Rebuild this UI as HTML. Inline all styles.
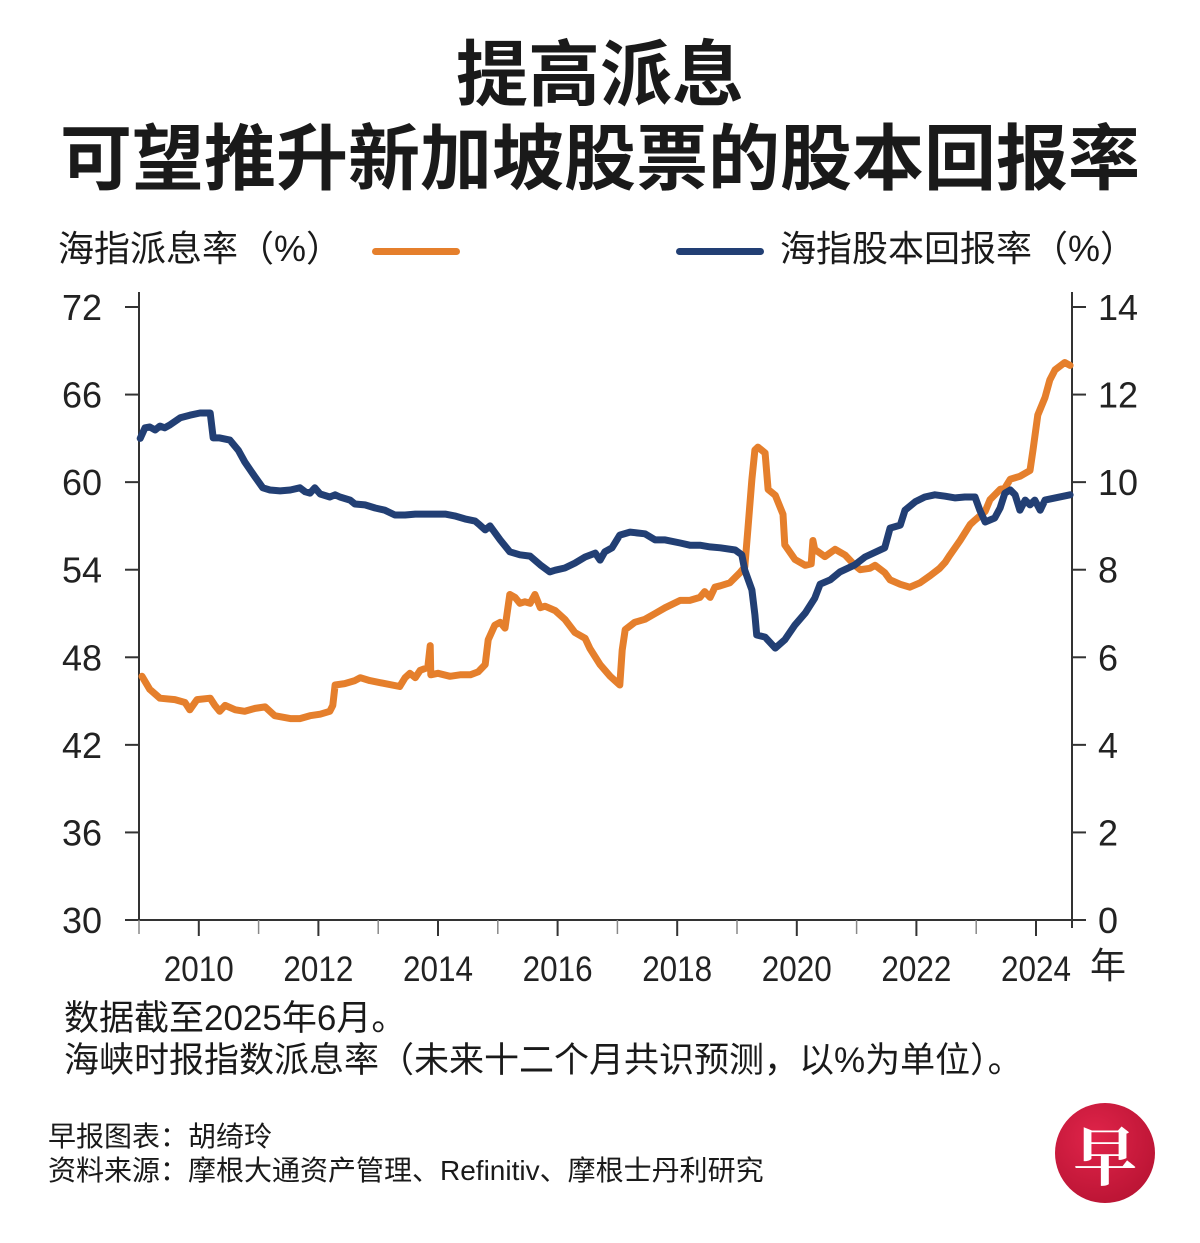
<!DOCTYPE html>
<html><head><meta charset="utf-8">
<style>
html,body{margin:0;padding:0;background:#fff;}
body{width:1200px;height:1243px;position:relative;overflow:hidden;font-family:"Liberation Sans","Noto Sans CJK SC",sans-serif;color:#1a1a1a;}
.t{position:absolute;white-space:nowrap;}
</style></head>
<body>
<div class="t" style="left:0;width:1200px;text-align:center;top:36px;font-size:72px;font-weight:bold;line-height:80px;">提高派息</div>
<div class="t" style="left:0;width:1200px;text-align:center;top:120px;font-size:72px;font-weight:bold;line-height:80px;">可望推升新加坡股票的股本回报率</div>
<div class="t" style="left:58px;top:226px;font-size:36px;line-height:46px;">海指派息率（%）</div>
<div style="position:absolute;left:372px;top:248px;width:88px;height:7px;border-radius:4px;background:#e57f2c;"></div>
<div style="position:absolute;left:676px;top:248px;width:88px;height:7px;border-radius:4px;background:#223f74;"></div>
<div class="t" style="left:780px;top:226px;font-size:36px;line-height:46px;">海指股本回报率（%）</div>

<svg id="chart" width="1200" height="1000" style="position:absolute;left:0;top:0;" xmlns="http://www.w3.org/2000/svg"></svg>

<div class="t" style="left:64px;top:998px;font-size:35px;line-height:42px;">数据截至2025年6月。</div>
<div class="t" style="left:64px;top:1040px;font-size:35px;line-height:42px;">海峡时报指数派息率（未来十二个月共识预测，以%为单位）。</div>
<div class="t" style="left:48px;top:1120px;font-size:28px;line-height:34px;">早报图表：胡绮玲</div>
<div class="t" style="left:48px;top:1154px;font-size:28px;line-height:34px;">资料来源：摩根大通资产管理、Refinitiv、摩根士丹利研究</div>
<div style="position:absolute;left:1055px;top:1103px;width:100px;height:100px;border-radius:50%;background:radial-gradient(circle at 40% 35%,#e0244a,#b0102e);color:#fff;font-size:64px;font-weight:bold;line-height:100px;text-align:center;font-family:'Noto Serif CJK SC',serif;">早</div>

<script>
const years = [2009.05,2009.18,2009.35,2009.60,2009.77,2009.85,2009.97,2010.19,2010.27,2010.35,2010.44,2010.61,2010.77,2010.94,2011.11,2011.27,2011.53,2011.69,2011.86,2012.03,2012.19,2012.24,2012.28,2012.44,2012.61,2012.70,2012.86,2013.11,2013.36,2013.45,2013.53,2013.62,2013.70,2013.83,2013.87,2013.88,2014.00,2014.20,2014.37,2014.54,2014.67,2014.79,2014.84,2014.95,2015.04,2015.12,2015.20,2015.29,2015.37,2015.45,2015.54,2015.62,2015.71,2015.79,2015.96,2016.12,2016.29,2016.46,2016.54,2016.71,2016.88,2017.04,2017.08,2017.13,2017.29,2017.46,2017.63,2017.80,2018.05,2018.21,2018.38,2018.46,2018.55,2018.63,2018.72,2018.88,2019.05,2019.13,2019.18,2019.25,2019.30,2019.35,2019.47,2019.52,2019.64,2019.77,2019.80,2019.97,2020.14,2020.24,2020.27,2020.30,2020.47,2020.64,2020.81,2020.97,2021.06,2021.22,2021.31,2021.47,2021.56,2021.73,2021.89,2022.06,2022.23,2022.39,2022.48,2022.56,2022.73,2022.90,2022.98,2023.15,2023.23,2023.40,2023.48,2023.57,2023.73,2023.90,2023.95,2024.03,2024.15,2024.23,2024.32,2024.48,2024.57];
const dividendYield = [46.7,45.8,45.2,45.1,44.9,44.4,45.1,45.2,44.7,44.3,44.7,44.4,44.3,44.5,44.6,44.0,43.8,43.8,44.0,44.1,44.3,44.7,46.1,46.2,46.4,46.6,46.4,46.2,46.0,46.6,46.9,46.6,47.1,47.3,48.8,46.8,46.9,46.7,46.8,46.8,47.0,47.5,49.2,50.2,50.4,50.0,52.3,52.1,51.7,51.8,51.7,52.3,51.4,51.5,51.2,50.6,49.7,49.3,48.6,47.5,46.7,46.1,48.5,49.9,50.4,50.6,51.0,51.4,51.9,51.9,52.1,52.5,52.1,52.8,52.9,53.1,53.8,54.2,56.7,60.2,62.2,62.4,62.0,59.5,59.1,57.8,55.7,54.7,54.3,54.4,56.0,55.4,54.9,55.4,55.0,54.3,54.0,54.1,54.3,53.8,53.3,53.0,52.8,53.1,53.6,54.1,54.5,55.0,56.0,57.1,57.4,58.0,58.8,59.5,59.6,60.2,60.4,60.8,62.2,64.6,65.8,67.0,67.7,68.2,68.0];
const roeYears = [2009.02,2009.10,2009.18,2009.27,2009.35,2009.43,2009.52,2009.69,2009.85,2010.02,2010.19,2010.24,2010.35,2010.52,2010.66,2010.77,2010.94,2011.07,2011.19,2011.36,2011.53,2011.69,2011.78,2011.86,2011.94,2012.03,2012.19,2012.28,2012.36,2012.53,2012.61,2012.78,2012.95,2013.11,2013.28,2013.45,2013.62,2013.87,2014.12,2014.28,2014.45,2014.62,2014.70,2014.79,2014.87,2015.04,2015.20,2015.37,2015.54,2015.71,2015.87,2015.96,2016.12,2016.29,2016.46,2016.63,2016.71,2016.79,2016.91,2017.04,2017.21,2017.46,2017.63,2017.80,2018.05,2018.21,2018.38,2018.55,2018.72,2018.97,2019.08,2019.13,2019.25,2019.30,2019.33,2019.47,2019.64,2019.80,2019.97,2020.14,2020.30,2020.39,2020.56,2020.72,2020.97,2021.14,2021.47,2021.56,2021.73,2021.81,2021.98,2022.14,2022.31,2022.48,2022.65,2022.81,2022.98,2023.06,2023.15,2023.31,2023.40,2023.48,2023.57,2023.65,2023.73,2023.82,2023.90,2023.98,2024.07,2024.15,2024.32,2024.57];
const roe = [11.0,11.24,11.26,11.19,11.28,11.24,11.31,11.47,11.53,11.58,11.58,11.01,11.01,10.96,10.73,10.46,10.12,9.87,9.82,9.80,9.82,9.87,9.78,9.75,9.87,9.73,9.66,9.71,9.66,9.59,9.50,9.48,9.41,9.36,9.25,9.25,9.27,9.27,9.27,9.23,9.16,9.11,9.02,8.91,9.00,8.68,8.41,8.34,8.31,8.11,7.95,7.99,8.04,8.15,8.29,8.38,8.22,8.41,8.50,8.79,8.86,8.82,8.68,8.68,8.61,8.56,8.56,8.52,8.50,8.45,8.34,7.99,7.54,6.97,6.51,6.46,6.21,6.40,6.74,7.01,7.35,7.67,7.77,7.95,8.11,8.29,8.50,8.95,9.02,9.36,9.55,9.66,9.71,9.68,9.64,9.66,9.66,9.36,9.09,9.18,9.41,9.75,9.82,9.71,9.36,9.59,9.48,9.59,9.36,9.59,9.64,9.71];
const leftTicks = [30,36,42,48,54,60,66,72];
const rightTicks = [0,2,4,6,8,10,12,14];
const yearLabels = [2010,2012,2014,2016,2018,2020,2022,2024];
const yearTicks = [2009,2010,2011,2012,2013,2014,2015,2016,2017,2018,2019,2020,2021,2022,2023,2024];

const svg = document.getElementById('chart');
const NS = 'http://www.w3.org/2000/svg';
const X0 = 139, XR = 1072, YT = 307, YB = 920;
const xS = y => X0 + (y - 2009) * 59.8;
const yL = v => YB - (v - 30) / 42 * (YB - YT);
const yR = v => YB - v / 14 * (YB - YT);
function mk(tag, attrs){const e=document.createElementNS(NS,tag);for(const k in attrs)e.setAttribute(k,attrs[k]);svg.appendChild(e);return e;}

let e = mk('line',{x1:X0,y1:YT-15,x2:X0,y2:YB,stroke:'#333','stroke-width':2});


e = mk('line',{x1:XR,y1:YT-15,x2:XR,y2:YB+8,stroke:'#333','stroke-width':2});


e = mk('line',{x1:X0,y1:YB,x2:XR,y2:YB,stroke:'#333','stroke-width':2});



leftTicks.forEach(v=>{
  const y=yL(v);
  let t=mk('line',{x1:X0-14,y1:y,x2:X0,y2:y,stroke:'#333','stroke-width':2});
  
  
  let l=mk('text',{x:102,y:y+13,'text-anchor':'end','font-size':36,fill:'#222','font-family':'Liberation Sans, sans-serif'});
  l.textContent=v;
  
  
});
rightTicks.forEach(v=>{
  const y=yR(v);
  let t=mk('line',{x1:XR,y1:y,x2:XR+14,y2:y,stroke:'#333','stroke-width':2});
  
  
  let l=mk('text',{x:1098,y:y+13,'text-anchor':'start','font-size':36,fill:'#222','font-family':'Liberation Sans, sans-serif'});
  l.textContent=v;
  
  
});
yearTicks.forEach(yr=>{
  const x=xS(yr);
  const major = yearLabels.includes(yr);
  let t=mk('line',{x1:x,y1:YB,x2:x,y2:YB+(major?16:14),stroke:major?'#333':'#888','stroke-width':major?2:1.5});
  
  
});
yearLabels.forEach(yr=>{
  let l=mk('text',{x:xS(yr),y:981,'text-anchor':'middle','font-size':35,fill:'#222','font-family':'Liberation Sans, sans-serif',textLength:70,lengthAdjust:'spacingAndGlyphs'});
  l.textContent=yr;
  
  
});
e = mk('text',{x:1090,y:978,'font-size':36,fill:'#222','font-family':'Noto Sans CJK SC, sans-serif'});
e.textContent='年';



let d1 = years.map((y,i)=>(i?'L':'M')+xS(y).toFixed(1)+' '+yL(dividendYield[i]).toFixed(1)).join(' ');
e = mk('path',{d:d1,fill:'none',stroke:'#e57f2c','stroke-width':7,'stroke-linejoin':'round','stroke-linecap':'round'});


let d2 = roeYears.map((y,i)=>(i?'L':'M')+xS(y).toFixed(1)+' '+yR(roe[i]).toFixed(1)).join(' ');
e = mk('path',{d:d2,fill:'none',stroke:'#223f74','stroke-width':7,'stroke-linejoin':'round','stroke-linecap':'round'});


</script>
</body></html>
